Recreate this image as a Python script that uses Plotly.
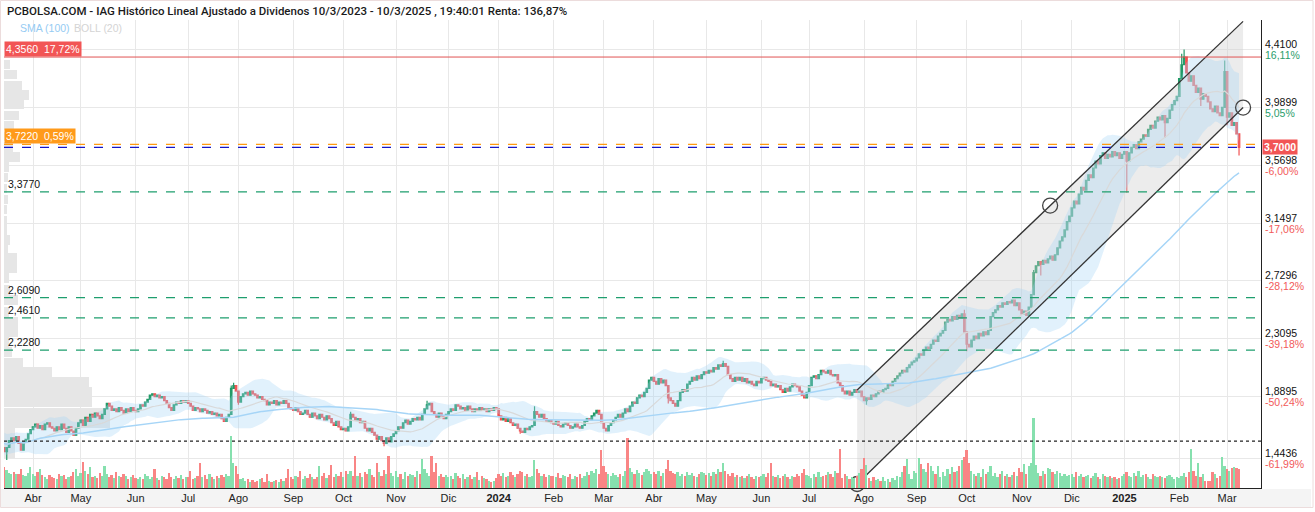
import numpy as np
import pandas as pd
import plotly.graph_objects as go

# ---------------- data ----------------
first_open = 1.62
close = [
    # Mar 2023
    1.60, 1.58, 1.55, 1.52, 1.49, 1.52, 1.57, 1.59, 1.57, 1.60, 1.55, 1.50, 1.56, 1.58, 1.62, 1.65,
    # Abr 2023
    1.67, 1.69, 1.66, 1.68, 1.65, 1.69, 1.70, 1.67, 1.66, 1.64, 1.67, 1.65, 1.69, 1.66, 1.63, 1.67, 1.64, 1.61, 1.66, 1.70,
    # May 2023
    1.72, 1.68, 1.74, 1.71, 1.76, 1.74, 1.77, 1.75, 1.73, 1.76, 1.80, 1.84, 1.82, 1.79, 1.80, 1.78, 1.81, 1.79, 1.77, 1.80, 1.78, 1.81, 1.79,
    # Jun 2023
    1.78, 1.80, 1.83, 1.82, 1.85, 1.87, 1.90, 1.91, 1.89, 1.90, 1.88, 1.89, 1.86, 1.84, 1.81, 1.79, 1.83, 1.85, 1.84, 1.86, 1.85, 1.86,
    # Jul 2023
    1.84, 1.82, 1.79, 1.81, 1.80, 1.78, 1.80, 1.79, 1.77, 1.78, 1.76, 1.77, 1.75, 1.76, 1.73, 1.71, 1.74, 1.76, 1.95, 1.97, 1.93,
    # Ago 2023
    1.85, 1.89, 1.91, 1.92, 1.90, 1.93, 1.91, 1.90, 1.88, 1.89, 1.87, 1.86, 1.83, 1.85, 1.84, 1.86, 1.83, 1.85, 1.84, 1.86, 1.84, 1.81, 1.80,
    # Sep 2023
    1.79, 1.81, 1.78, 1.76, 1.77, 1.79, 1.76, 1.74, 1.77, 1.75, 1.73, 1.76, 1.74, 1.72, 1.75, 1.73, 1.70, 1.68, 1.71, 1.67, 1.65,
    # Oct 2023
    1.66, 1.64, 1.67, 1.76, 1.74, 1.72, 1.73, 1.70, 1.71, 1.66, 1.64, 1.66, 1.63, 1.61, 1.58, 1.60, 1.57, 1.55, 1.59, 1.56, 1.60, 1.62,
    # Nov 2023
    1.64, 1.67, 1.66, 1.70, 1.72, 1.69, 1.71, 1.73, 1.72, 1.74, 1.72, 1.76, 1.80, 1.83, 1.84, 1.78, 1.76, 1.74, 1.77, 1.75, 1.73, 1.76,
    # Dic 2023
    1.78, 1.80, 1.79, 1.83, 1.82, 1.80, 1.81, 1.79, 1.82, 1.80, 1.78, 1.80, 1.79, 1.81, 1.79, 1.80, 1.78, 1.80, 1.79, 1.81, 1.80,
    # Ene 2024
    1.75, 1.72, 1.74, 1.71, 1.73, 1.70, 1.68, 1.69, 1.66, 1.64, 1.63, 1.66, 1.65, 1.67, 1.68, 1.78, 1.76, 1.74, 1.76, 1.73, 1.71, 1.72, 1.70,
    # Feb 2024
    1.69, 1.71, 1.68, 1.67, 1.69, 1.70, 1.68, 1.66, 1.67, 1.69, 1.67, 1.66, 1.68, 1.71, 1.73, 1.72, 1.75, 1.77, 1.79, 1.76, 1.70,
    # Mar 2024
    1.66, 1.64, 1.68, 1.70, 1.72, 1.74, 1.76, 1.74, 1.77, 1.80, 1.78, 1.82, 1.85, 1.84, 1.88, 1.90, 1.89, 1.92, 1.95, 2.01, 2.03,
    # Abr 2024
    2.00, 1.98, 2.02, 1.99, 2.01, 1.97, 1.88, 1.86, 1.84, 1.82, 1.86, 1.92, 1.94, 1.93, 1.98, 2.00, 2.03, 2.01, 2.04, 2.02, 2.05, 2.07,
    # May 2024
    2.06, 2.08, 2.07, 2.10, 2.09, 2.12, 2.11, 2.13, 2.11, 2.05, 2.02, 2.00, 2.03, 2.01, 2.03, 2.00, 2.02, 1.99, 2.00, 1.98, 1.97, 2.00, 1.99,
    # Jun 2024
    2.02, 2.03, 2.01, 2.00, 1.97, 1.98, 1.96, 1.97, 1.94, 1.92, 1.95, 1.93, 1.96, 1.98, 1.97, 1.96, 1.93, 1.90, 1.88, 1.92,
    # Jul 2024
    1.97, 2.03, 2.04, 2.02, 2.05, 2.08, 2.07, 2.06, 2.08, 2.05, 2.04, 2.05, 1.99, 1.97, 1.93, 1.91, 1.93, 1.90, 1.92, 1.94, 1.92, 1.93, 1.89,
    # Ago 2024
    1.86, 1.88, 1.87, 1.90, 1.89, 1.91, 1.93, 1.92, 1.94, 1.95, 1.98, 1.97, 2.00, 2.02, 2.04, 2.06, 2.08, 2.07, 2.10, 2.12, 2.14, 2.15,
    # Sep 2024
    2.17, 2.20, 2.19, 2.23, 2.25, 2.24, 2.27, 2.30, 2.29, 2.33, 2.35, 2.37, 2.43, 2.45, 2.44, 2.47, 2.45, 2.48, 2.46, 2.49, 2.36,
    # Oct 2024
    2.27, 2.25, 2.30, 2.33, 2.31, 2.35, 2.33, 2.36, 2.34, 2.37, 2.47, 2.50, 2.52, 2.55, 2.54, 2.57, 2.56, 2.58, 2.57, 2.59, 2.55, 2.57, 2.52,
    # Nov 2024
    2.49, 2.51, 2.48, 2.54, 2.63, 2.79, 2.84, 2.87, 2.85, 2.88, 2.86, 2.89, 2.91, 2.88, 2.92, 2.97, 3.02, 3.05, 3.10, 3.16, 3.20,
    # Dic 2024
    3.26, 3.31, 3.29, 3.36, 3.41, 3.39, 3.46, 3.50, 3.48, 3.55, 3.60, 3.58, 3.64, 3.66, 3.62, 3.65, 3.63, 3.67, 3.64, 3.66, 3.62, 3.65,
    # Ene 2025
    3.67, 3.60, 3.66, 3.70, 3.72, 3.69, 3.74, 3.76, 3.79, 3.78, 3.83, 3.86, 3.84, 3.89, 3.92, 3.90, 3.93, 3.88, 3.91, 3.97, 4.01, 4.04, 4.07,
    # Feb 2025
    4.20, 4.30, 4.356, 4.24, 4.18, 4.22, 4.15, 4.10, 4.13, 4.05, 4.09, 4.07, 4.03, 3.98, 3.96, 4.00, 3.95, 3.93, 3.99, 4.25,
    # Mar 2025
    3.92, 3.95, 3.86, 3.88, 3.798, 3.70,
]

# volume in millions of shares
volume = [
    35, 29, 27, 32, 34, 29, 24, 22, 26, 23, 22, 30, 21, 19, 24, 33,
    22, 19, 26, 31, 21, 17, 15, 21, 18, 16, 15, 23, 19, 21, 15, 18, 20, 26, 30, 19,
    24, 42, 28, 22, 34, 18, 20, 16, 24, 19, 35, 22, 18, 21, 16, 25, 20, 17, 22, 19, 14, 18, 21,
    16, 14, 18, 15, 22, 19, 14, 17, 31, 16, 13, 20, 18, 15, 24, 17, 14, 19, 16, 21, 15, 18,
    17, 27, 14, 16, 19, 40, 18, 21, 15, 22, 17, 14, 19, 16, 21, 18, 22, 20, 83, 40, 35,
    22, 14, 16, 12, 15, 10, 13, 9, 11, 14, 16, 10, 22, 12, 9, 11, 13, 10, 14, 12, 16, 30, 18,
    15, 20, 17, 28, 14, 19, 16, 22, 18, 14, 17, 35, 19, 24, 16, 21, 37, 18, 23, 20, 26,
    18, 28, 22, 27, 20, 51, 19, 24, 17, 26, 22, 30, 21, 18, 40, 25, 20, 29, 22, 51, 24, 20,
    27, 18, 22, 15, 26, 19, 23, 21, 17, 28, 22, 46, 30, 24, 20, 51, 25, 40, 19, 23, 18, 21,
    17, 20, 15, 24, 19, 16, 22, 14, 18, 21, 15, 17, 26, 13, 19, 16, 14, 11, 9, 12, 16,
    22, 19, 24, 18, 20, 26, 21, 17, 23, 28, 25, 19, 22, 18, 20, 45, 30, 24, 19, 22, 17, 21, 19,
    20, 18, 24, 16, 21, 19, 17, 22, 15, 20, 18, 23, 16, 19, 25, 21, 27, 24, 30, 22, 61,
    35, 26, 22, 19, 24, 21, 18, 23, 20, 28, 80, 32, 25, 22, 29, 24, 21, 26, 30, 28, 22,
    25, 22, 27, 20, 24, 30, 45, 28, 24, 22, 26, 20, 23, 19, 25, 21, 24, 20, 18, 22, 26, 24,
    21, 24, 19, 26, 22, 30, 25, 40, 28, 22, 19, 24, 18, 21, 17, 20, 16, 19, 22, 18, 15, 20, 17,
    19, 22, 18, 24, 40, 20, 17, 21, 16, 19, 23, 18, 15, 20, 17, 22, 19, 24, 30, 21,
    20, 16, 22, 18, 25, 17, 19, 21, 26, 23, 18, 28, 24, 62, 16, 22, 19, 14, 18, 16, 20, 24, 30,
    48, 37, 16, 12, 18, 13, 15, 11, 17, 12, 14, 10, 16, 13, 20, 18, 25, 35, 46, 22, 15, 28,
    24, 48, 38, 30, 26, 40, 35, 28, 22, 36, 18, 25, 20, 30, 22, 33, 26, 28, 35, 45, 50,
    61, 40, 28, 22, 19, 24, 18, 30, 22, 26, 35, 20, 24, 18, 22, 28, 19, 23, 17, 21, 25, 19, 32,
    26, 38, 22, 35, 40, 112, 37, 24, 20, 28, 22, 32, 30, 26, 22, 28, 24, 20, 22, 19, 21,
    23, 18, 25, 20, 22, 17, 19, 21, 16, 20, 24, 18, 15, 22, 19, 17, 20, 16, 18, 14, 16, 19,
    22, 26, 20, 18, 24, 19, 28, 17, 21, 23, 18, 15, 22, 19, 17, 20, 18, 16, 19, 21, 17, 15, 18,
    16, 20, 24, 18, 25, 62, 28, 20, 40, 18, 22, 12, 11, 12, 26, 22, 16, 20, 50, 36,
    30, 28, 32, 33, 32, 31,
]

# notable wicks (day index -> price)
high_wick = {99: 1.97, 100: 1.99, 149: 1.78, 181: 1.86, 226: 1.82, 305: 2.15,
             406: 2.52, 435: 2.81, 498: 4.41, 515: 4.33, 497: 4.38}
low_wick = {5: 1.43, 102: 1.83, 163: 1.53, 220: 1.62, 282: 1.84, 365: 1.83,
            407: 2.22, 438: 2.77, 474: 3.37, 490: 3.77, 505: 4.00, 516: 3.86, 521: 3.64}

# price levels
level_max = 4.356
level_orange = 3.722
level_last = 3.70
level_dotted = 1.567
support_levels = [3.377, 2.609, 2.461, 2.228]
right_ticks = [4.4100, 3.9899, 3.5698, 3.1497, 2.7296, 2.3095, 1.8895, 1.4436]
right_pcts = ["16,11%", "5,05%", "-6,00%", "-17,06%", "-28,12%", "-39,18%", "-50,24%", "-61,99%"]

# regression channel (day index, price)
channel_x = [361.1, 522.7]
channel_upper = [1.938, 4.615]
channel_lower = [1.255, 3.989]
channel_pts_x = [361.1, 441.9, 522.7]
channel_pts_y = [1.255, 3.277, 3.989]

# volume-by-price profile (bin centre price, relative volume)
profile_price = [1.480, 1.553, 1.625, 1.698, 1.771, 1.851, 1.923, 1.996, 2.068, 2.134, 2.214,
                 2.287, 2.359, 2.432, 2.505, 2.591, 2.663, 2.750, 2.824, 2.896, 2.960, 3.027,
                 3.100, 3.170, 3.250, 3.320, 3.400, 3.480, 3.557, 3.630, 3.703, 3.780, 3.860,
                 3.930, 4.010, 4.080, 4.150, 4.230, 4.300]
profile_vol = [9, 9, 9, 84, 84, 70, 70, 68, 38, 15, 6,
               4, 11, 11, 4, 11, 5, 4, 10, 10, 3, 5,
               2, 2, 2, 3, 2, 3, 4, 13, 7, 6, 8,
               12, 16, 20, 14, 10, 5]

title_text = ("PCBOLSA.COM - IAG Histórico Lineal Ajustado a Dividenos 10/3/2023 - 10/3/2025 , "
              "19:40:01 Renta: 136,87%")

# ---------------- derived ----------------
n = len(close)
dates = pd.bdate_range("2023-03-10", periods=n)
idx = np.arange(n)
c = np.array(close, dtype=float)
o = np.concatenate([[first_open], c[:-1]])
h = np.maximum(o, c)
l = np.minimum(o, c)
for k, v in high_wick.items():
    h[k] = max(h[k], v)
for k, v in low_wick.items():
    l[k] = min(l[k], v)

cs = pd.Series(c)
sma100 = cs.rolling(100, min_periods=1).mean()
bmid = cs.rolling(20, min_periods=5).mean()
bsd = cs.rolling(20, min_periods=5).std(ddof=0)
bup = bmid + 2 * bsd
blo = bmid - 2 * bsd

months_es = ["Ene", "Feb", "Mar", "Abr", "May", "Jun", "Jul", "Ago", "Sep", "Oct", "Nov", "Dic"]
tickvals, ticktext = [], []
seen = set()
for i, d in enumerate(dates):
    key = (d.year, d.month)
    if key not in seen:
        seen.add(key)
        tickvals.append(i)
        ticktext.append(f"<b>{d.year}</b>" if d.month == 1 else months_es[d.month - 1])


def fmt(v, nd=4):
    return f"{v:.{nd}f}".replace(".", ",")


UP = "#229a68"
DN = "#f25252"
VUP = "#86e0ae"
VDN = "#f98585"
FONT = "Liberation Sans, Arial, sans-serif"

fig = go.Figure()

# volume profile on base axes (drawn first, underneath)
fig.add_trace(go.Bar(x=profile_vol, y=profile_price, orientation="h", xaxis="x", yaxis="y",
                     marker=dict(color="#e6e6e6", line=dict(width=0)), width=0.068,
                     hoverinfo="skip"))

# channel shading
fig.add_trace(go.Scatter(x=[channel_x[0], channel_x[1], channel_x[1], channel_x[0]],
                         y=[channel_upper[0], channel_upper[1], channel_lower[1], channel_lower[0]],
                         fill="toself", fillcolor="rgba(205,205,205,0.38)", line=dict(width=0),
                         mode="lines", xaxis="x2", yaxis="y", hoverinfo="skip"))

# Bollinger
fig.add_trace(go.Scatter(x=idx, y=blo, mode="lines", line=dict(width=0, color="rgba(0,0,0,0)"),
                         xaxis="x2", yaxis="y", hoverinfo="skip"))
fig.add_trace(go.Scatter(x=idx, y=bup, mode="lines", line=dict(width=0, color="rgba(0,0,0,0)"),
                         fill="tonexty", fillcolor="rgba(165,212,245,0.33)",
                         xaxis="x2", yaxis="y", hoverinfo="skip"))
fig.add_trace(go.Scatter(x=idx, y=bmid, mode="lines", line=dict(width=1.2, color="#d9d9d9"),
                         xaxis="x2", yaxis="y", hoverinfo="skip"))
# SMA 100
fig.add_trace(go.Scatter(x=idx, y=sma100, mode="lines", line=dict(width=1.5, color="#a6d5f7"),
                         xaxis="x2", yaxis="y", hoverinfo="skip"))

# channel lines
for ys in (channel_upper, channel_lower):
    fig.add_trace(go.Scatter(x=channel_x, y=ys, mode="lines", line=dict(width=1.3, color="#333333"),
                             xaxis="x2", yaxis="y", hoverinfo="skip"))

# candles
fig.add_trace(go.Candlestick(x=idx, open=o, high=h, low=l, close=c, xaxis="x2", yaxis="y",
                             increasing=dict(line=dict(color=UP, width=1.2), fillcolor=UP),
                             decreasing=dict(line=dict(color=DN, width=1.2), fillcolor=DN),
                             whiskerwidth=0))

# channel circles
fig.add_trace(go.Scatter(x=channel_pts_x, y=channel_pts_y, mode="markers",
                         marker=dict(symbol="circle-open", size=15, color="#444444",
                                     line=dict(width=1.3)),
                         xaxis="x2", yaxis="y", cliponaxis=False, hoverinfo="skip"))

# volume
vcol = [VUP if c[i] >= o[i] else VDN for i in range(n)]
fig.add_trace(go.Bar(x=idx, y=volume, xaxis="x2", yaxis="y2", marker=dict(color=vcol, line=dict(width=0)),
                     width=0.72, hoverinfo="skip"))

shapes = []
# x-axis label band
shapes.append(dict(type="rect", xref="paper", yref="paper", x0=-4 / 1257, x1=1307 / 1257,
                   y0=-19 / 468, y1=-1 / 468, fillcolor="#f4f4f4", line=dict(width=0), layer="below"))
# outer frame
shapes.append(dict(type="rect", xref="paper", yref="paper", x0=-3.5 / 1257, x1=1309 / 1257,
                   y0=-19.5 / 468, y1=1 + 19.5 / 468, line=dict(color="#ecdcdc", width=1),
                   fillcolor="rgba(0,0,0,0)", layer="below"))
shapes.append(dict(type="line", xref="paper", yref="y", x0=0, x1=1, y0=level_max, y1=level_max,
                   line=dict(color="#e05353", width=1)))
shapes.append(dict(type="line", xref="paper", yref="y", x0=0, x1=1, y0=level_orange, y1=level_orange,
                   line=dict(color="#ff9a10", width=1.4, dash="dash")))
shapes.append(dict(type="line", xref="paper", yref="y", x0=0, x1=1, y0=level_last, y1=level_last,
                   line=dict(color="#1515c8", width=1.3, dash="dash")))
for lv in support_levels:
    shapes.append(dict(type="line", xref="paper", yref="y", x0=0, x1=1, y0=lv, y1=lv,
                       line=dict(color="#1e9e6e", width=1.2, dash="dash")))
shapes.append(dict(type="line", xref="paper", yref="y", x0=0, x1=1, y0=level_dotted, y1=level_dotted,
                   line=dict(color="#222222", width=1.2, dash="dot")))

ann = []
ann.append(dict(text=title_text, xref="paper", yref="paper", x=1 / 1257, y=1 + 9.5 / 468,
                xanchor="left", yanchor="middle", showarrow=False,
                font=dict(family="Roboto", size=11.5, color="#1a1a1a", weight=500)))
ann.append(dict(text="SMA (100)", xref="paper", yref="paper", x=14 / 1257, y=1 - 8 / 468,
                xanchor="left", yanchor="middle", showarrow=False,
                font=dict(family=FONT, size=10.5, color="#95cbf3")))
ann.append(dict(text="BOLL (20)", xref="paper", yref="paper", x=68 / 1257, y=1 - 8 / 468,
                xanchor="left", yanchor="middle", showarrow=False,
                font=dict(family=FONT, size=10.5, color="#d4d4d4")))
ann.append(dict(text=f"{fmt(level_max)}\u00a0\u00a017,72%", xref="paper", yref="y", x=0, y=level_max,
                xanchor="left", yanchor="bottom", showarrow=False, bgcolor="#f25555",
                borderpad=1, font=dict(family=FONT, size=10.5, color="white")))
ann.append(dict(text=f"{fmt(level_orange)}\u00a0\u00a00,59%", xref="paper", yref="y", x=0, y=level_orange,
                xanchor="left", yanchor="bottom", showarrow=False, bgcolor="#ff9a1a",
                borderpad=1, font=dict(family=FONT, size=10.5, color="white")))
for lv in support_levels:
    ann.append(dict(text=fmt(lv), xref="paper", yref="y", x=0, y=lv, xshift=2,
                    xanchor="left", yanchor="bottom", showarrow=False,
                    font=dict(family=FONT, size=10.5, color="#111111")))
for tv, pt in zip(right_ticks, right_pcts):
    pcol = "#2a9d6c" if not pt.startswith("-") else "#f25a5a"
    ann.append(dict(text=fmt(tv), xref="paper", yref="y", x=1, y=tv, xshift=2, yshift=5.5,
                    xanchor="left", yanchor="middle", showarrow=False,
                    font=dict(family=FONT, size=10.5, color="#111111")))
    ann.append(dict(text=pt, xref="paper", yref="y", x=1, y=tv, xshift=2, yshift=-5.5,
                    xanchor="left", yanchor="middle", showarrow=False,
                    font=dict(family=FONT, size=10.5, color=pcol)))
ann.append(dict(text="<b>" + fmt(level_last) + "</b>", xref="paper", yref="y", x=1, y=level_last, xshift=1,
                xanchor="left", yanchor="middle", showarrow=False, bgcolor="#f25555",
                borderpad=1, font=dict(family=FONT, size=10.5, color="white")))

fig.update_layout(
    width=1315, height=512,
    margin=dict(l=4, r=54, t=20, b=24),
    paper_bgcolor="white", plot_bgcolor="white",
    showlegend=False,
    bargap=0,
    boxgap=0.1,
    xaxis=dict(range=[0, 1000], visible=False, fixedrange=True),
    xaxis2=dict(overlaying="x", anchor="y", side="bottom", range=[3.85, 530.2],
                tickvals=tickvals, ticktext=ticktext, showgrid=True, gridcolor="#e8e8e8",
                showline=True, linecolor="#222222", linewidth=1, ticks="", zeroline=False,
                tickfont=dict(family=FONT, size=11, color="#222222"),
                rangeslider=dict(visible=False), fixedrange=True),
    yaxis=dict(range=[1.226, 4.625], side="right", tickvals=right_ticks, showticklabels=False,
               showgrid=True, gridcolor="#e8e8e8", showline=True, linecolor="#222222",
               linewidth=1, zeroline=False, ticks="", fixedrange=True),
    yaxis2=dict(overlaying="y", range=[0, 750], visible=False, fixedrange=True),
    shapes=shapes,
    annotations=ann,
)

fig.write_html("out.html")
